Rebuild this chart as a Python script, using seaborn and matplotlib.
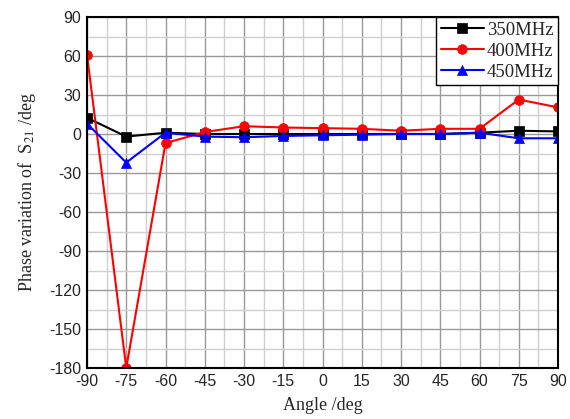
import matplotlib
matplotlib.use("Agg")
import matplotlib.pyplot as plt
import seaborn as sns
import pandas as pd
from matplotlib.ticker import MultipleLocator, AutoMinorLocator

angles = [-90, -75, -60, -45, -30, -15, 0, 15, 30, 45, 60, 75, 90]
s350 = [12.5, -2, 1, 0, 0, 0, 0, 0, 0, 0, 1, 2.5, 2]
s400 = [61, -180, -7, 1.5, 6, 5, 4.5, 4, 2.5, 4, 4, 26.5, 20.5]
s450 = [8, -22, 1, -2, -2.5, -1.5, -1, -0.5, 0, 0, 1, -3.3, -3.3]
series_names = ["350MHz", "400MHz", "450MHz"]
colors = ["black", "red", "blue"]
markers = ["s", "o", "^"]

df = pd.DataFrame({"Angle": angles * 3,
                   "Phase": s350 + s400 + s450,
                   "Series": [n for n in series_names for _ in angles]})

sns.set_style("white")
plt.rcParams["axes.unicode_minus"] = False
plt.rcParams["mathtext.fontset"] = "stix"
fig = plt.figure(figsize=(5.70, 4.19), dpi=100)
ax = fig.add_axes([87/570, 1-368/419, (558-87)/570, (368-17)/419])

sns.lineplot(data=df, x="Angle", y="Phase", hue="Series", style="Series",
             palette=colors, markers=markers, dashes=False, ax=ax,
             linewidth=1.5, markersize=7, markeredgewidth=0.5)
for line in ax.lines:
    line.set_markeredgecolor(line.get_color())

ax.set_xlim(-90, 90)
ax.set_ylim(-180, 90)
ax.xaxis.set_major_locator(MultipleLocator(15))
ax.yaxis.set_major_locator(MultipleLocator(30))
ax.xaxis.set_minor_locator(AutoMinorLocator(2))
ax.yaxis.set_minor_locator(AutoMinorLocator(2))
ax.grid(which="major", color="#999999", linewidth=1.0)
ax.grid(which="minor", color="#d0d0d0", linewidth=1.0)
ax.set_axisbelow(True)
ax.tick_params(which="major", direction="in", length=5, width=1.2,
               labelsize=11.5, top=False, right=False, pad=4)
ax.tick_params(which="minor", direction="in", length=3, width=1.0)
for lab in ax.get_xticklabels() + ax.get_yticklabels():
    lab.set_fontfamily("Liberation Sans")
for sp in ax.spines.values():
    sp.set_linewidth(1.5)
    sp.set_color("black")

ax.set_xlabel("Angle /deg", family="Liberation Serif", fontsize=13, labelpad=6)
ax.set_ylabel("Phase variation of  S$_{21}$ /deg", family="Liberation Serif",
              fontsize=13, labelpad=8)

leg = ax.legend(loc="upper right", prop={"family": "Liberation Serif", "size": 13.5},
                frameon=True, fancybox=False, edgecolor="black",
                borderaxespad=0, handlelength=2.3, borderpad=0.25,
                labelspacing=0.2, handletextpad=0.15)
leg.get_frame().set_linewidth(1.0)
leg.get_frame().set_alpha(1)

fig.savefig("out.png", dpi=100)
